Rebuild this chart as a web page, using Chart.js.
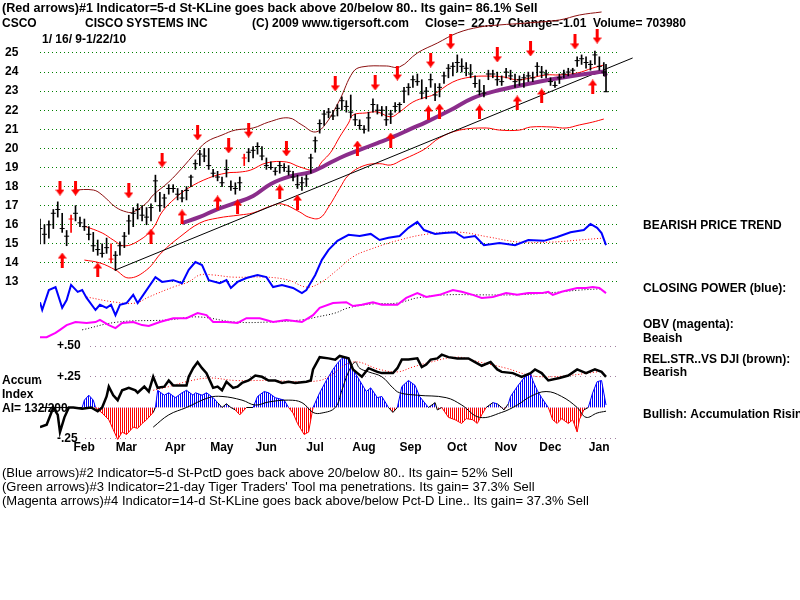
<!DOCTYPE html>
<html>
<head>
<meta charset="utf-8">
<script src="https://cdn.jsdelivr.net/npm/chart.js@4.4.1/dist/chart.umd.min.js"></script>
<style>
  html, body { margin: 0; padding: 0; background: #fff; }
  canvas { display: block; }
</style>
</head>
<body>
<canvas id="chart" width="800" height="600"></canvas>
<script>
// x = trading day, 0 = 1/16/09 ... 255 = 1/22/10
const monthDays = [10, 29, 51, 72, 92, 114, 136, 157, 178, 200, 220, 242];
const monthNames = ['Feb', 'Mar', 'Apr', 'May', 'Jun', 'Jul', 'Aug', 'Sep', 'Oct', 'Nov', 'Dec', 'Jan'];
const priceTicks = [13, 14, 15, 16, 17, 18, 19, 20, 21, 22, 23, 24, 25];
const aiTicks = [0.5, 0.25, -0.25];
const aiTickNames = ['+.50', '+.25', '-.25'];

// price bars, one every 2 trading days, the last one is 1/22/10
const barHigh = [16.3,16.0,16.2,16.8,17.2,16.6,15.7,16.5,17.0,16.4,16.3,15.9,15.6,15.2,15.0,15.3,15.0,14.6,15.1,15.6,
  16.5,16.9,17.1,17.0,16.9,17.1,18.6,17.7,17.6,18.1,18.1,17.9,17.8,18.0,18.6,19.4,19.9,20.0,20.0,18.9,
  18.8,18.5,19.4,18.3,18.2,18.5,19.7,20.0,20.1,20.3,20.1,19.5,19.3,19.0,19.3,19.2,19.1,18.8,18.6,18.5,
  18.6,19.7,20.6,21.5,22.0,22.1,22.0,22.3,22.7,22.5,22.8,21.8,21.5,21.2,21.9,22.6,22.3,22.2,22.2,22.0,
  22.4,22.4,23.2,23.4,23.8,23.9,23.6,23.2,23.9,23.4,23.4,24.0,24.4,24.5,24.9,24.7,24.5,24.4,23.8,23.6,
  23.3,24.1,24.1,24.0,23.8,24.2,24.1,23.9,23.8,23.9,24.0,24.0,24.5,24.3,24.1,23.7,23.5,23.9,24.1,24.2,
  24.2,24.8,24.9,24.8,24.6,25.1,24.8,24.5,24.4];
const barLow = [15.0,15.0,15.3,15.8,16.4,15.6,14.9,15.6,16.2,15.9,15.7,15.2,14.6,14.4,14.3,14.5,14.0,13.6,14.4,14.8,
  15.5,15.9,16.3,16.2,16.0,16.2,17.2,16.7,16.9,17.6,17.7,17.3,17.2,17.3,18.0,18.9,19.1,19.3,18.9,18.5,
  18.3,18.0,18.5,17.8,17.6,17.8,19.1,19.3,19.5,19.7,19.4,18.9,18.9,18.6,18.7,18.8,18.6,18.3,17.9,17.8,
  18.0,18.7,19.8,20.8,21.2,21.6,21.5,21.7,22.0,21.9,21.6,21.2,21.0,20.8,20.9,21.9,21.8,21.7,21.2,21.3,
  21.9,21.9,22.4,22.8,23.2,23.3,22.6,22.6,23.2,22.5,22.7,23.4,23.7,23.8,24.0,24.0,23.8,23.7,23.2,22.8,
  22.7,23.6,23.7,23.3,23.3,23.7,23.6,23.2,23.3,23.2,23.5,23.5,23.8,23.7,23.7,23.3,23.2,23.4,23.7,23.8,
  23.9,24.3,24.4,24.2,24.1,24.4,24.1,23.8,22.97];
const barClose = [15.8,15.5,16.0,16.6,16.8,15.8,15.4,16.3,16.6,16.1,15.9,15.5,14.9,14.7,14.5,14.8,14.2,14.4,14.9,15.4,
  16.2,16.6,16.8,16.5,16.4,16.9,18.3,17.0,17.4,17.9,17.9,17.6,17.4,17.8,18.5,19.2,19.7,19.6,19.1,18.7,
  18.5,18.2,18.9,18.0,17.9,18.2,19.5,19.8,19.9,20.1,19.6,19.1,19.0,18.8,19.1,19.0,18.8,18.5,18.1,18.2,
  18.4,19.5,20.4,21.3,21.8,21.9,21.7,22.1,22.5,22.2,21.9,21.5,21.2,21.0,21.6,22.3,22.0,22.0,21.5,21.8,
  22.2,22.3,23.0,23.2,23.6,23.5,22.9,23.0,23.6,22.8,23.2,23.8,24.2,24.3,24.5,24.3,24.2,23.9,23.4,23.0,
  22.9,23.9,23.9,23.6,23.5,24.0,23.8,23.5,23.6,23.7,23.8,23.7,24.3,24.0,23.9,23.5,23.3,23.7,23.9,24.0,
  24.1,24.6,24.7,24.5,24.4,24.9,24.3,24.0,22.97];
const redBars = [7, 16, 46];

// bands and moving average
const upperDays = [15,24,28,34,39,42,48,51,58,64,70,75,82,88,96,103,112,118,124,129,135,141,145,156,162,170,179,188,198,207,219,234,243,253];
const upperBand = [17.82,17.82,17.56,16.93,16.67,16.67,17.14,17.56,18.24,18.97,19.76,20.34,20.7,20.96,21.07,21.38,21.6,21.23,20.86,21.33,22.54,24.0,24.27,24.32,24.27,25.0,25.52,26.05,26.36,26.47,26.57,26.73,26.99,27.15];
const midDays = [20,28,33,38,45,51,55,61,67,76,84,90,95,102,111,117,124,127,131,135,139,141,147,152,158,162,168,174,177,186,194,201,209,215,221,228,234,242,249,254];
const midBand = [15.93,15.57,15.2,14.89,15.2,15.83,16.67,17.4,17.93,18.45,18.71,18.76,18.87,19.24,19.29,19.03,18.87,19.3,19.8,20.6,21.33,21.75,21.86,21.91,21.65,21.91,22.43,22.69,22.8,23.48,23.74,23.79,23.74,23.59,23.69,23.85,23.85,23.95,24.21,24.37];
const lowDays = [20,27,34,40,48,55,63,72,80,90,96,104,109,117,121,126,130,135,139,146,153,158,163,170,174,180,189,201,207,216,221,231,237,243,249,254];
const lowBand = [14.15,14.0,13.63,13.21,13.63,14.57,15.36,16.09,16.35,16.51,16.62,16.98,17.09,16.67,16.4,16.35,16.93,17.9,18.6,19.1,19.2,19.13,19.39,19.76,20.02,20.55,20.96,21.07,20.96,20.96,21.12,21.12,21.07,21.23,21.38,21.54];
const maDays = [64,72,79,88,96,104,113,122,128,135,144,152,159,167,174,185,195,207,222,237,249,254,255];
const maLine = [16.09,16.41,16.77,17.14,17.51,18.14,18.55,18.76,19.08,19.5,19.92,20.28,20.6,21.02,21.38,22.01,22.64,23.06,23.43,23.74,23.95,24.0,23.8];
const trendDays = [34, 267];
const trendLine = [13.63, 24.74];

// red arrows
const sellDays = [9,16,40,55,71,85,94,111,133,151,161,176,185,206,221,241,251];
const sellAt = [17.92,17.92,17.77,19.39,20.81,20.13,20.96,19.97,23.38,23.43,23.95,24.63,25.58,24.9,25.21,25.58,25.89];
const buyDays = [10,26,50,64,80,89,108,116,143,158,175,180,198,215,226,249];
const buyAt = [14.15,13.63,15.41,16.41,17.14,16.93,17.72,17.19,20.02,20.44,21.86,21.96,21.91,22.38,22.75,23.22];

// closing power and OBV (index units)
const cpDays = [0,1,4,7,10,12,14,17,19,21,25,27,30,32,34,36,39,42,44,48,52,55,60,64,67,70,73,76,81,84,86,89,93,98,102,105,109,114,118,120,124,127,130,134,139,144,149,153,157,162,166,170,173,178,182,187,191,196,200,207,214,220,227,233,239,245,248,251,253,255];
const closingPower = [31.9,30.1,34.7,35.4,30.6,32.4,35.9,34.3,34.7,32.9,30.1,31.3,30.6,31.3,28.9,31.3,31.7,33.6,31.7,34.7,37.7,36.6,37.0,36.3,39.4,41.2,40.5,37.0,36.3,37.0,35.2,36.6,37.5,38.2,37.7,35.4,35.9,35.2,34.0,34.7,38.2,41.7,44.0,46.1,47.5,47.2,47.7,46.3,46.8,47.2,49.1,50.5,48.6,47.7,47.9,48.1,46.8,47.2,45.1,45.6,45.1,46.3,46.1,47.0,48.1,48.6,50.0,49.1,47.9,45.1];
const cpMaDays = [21,34,43,49,60,67,72,78,87,102,112,120,126,134,141,148,162,175,189,202,216,230,243,255];
const cpMa = [33.1,31.9,31.7,33.1,35.4,36.6,38.2,38.2,37.7,37.7,37.0,35.4,36.3,39.4,42.4,44.0,46.3,47.7,48.1,47.0,45.8,45.8,46.3,46.8];
const obvDays = [0,3,7,9,12,16,21,25,27,31,34,37,42,46,49,54,60,66,71,75,78,84,89,93,99,105,111,118,123,126,132,138,141,145,150,154,161,165,170,174,180,186,190,195,199,204,210,215,220,226,229,231,235,242,246,249,252,255];
const obv = [23.8,23.8,24.8,25.5,26.6,27.3,27.1,27.3,27.8,26.6,25.9,27.1,27.3,26.6,26.4,27.3,28.2,28.2,29.4,28.9,27.3,27.3,27.1,28.2,28.2,27.3,27.8,27.3,28.9,30.6,31.7,31.9,31.0,31.3,31.9,31.3,31.3,32.9,34.0,33.1,33.6,34.7,34.3,33.6,32.9,33.1,34.0,33.6,34.0,34.0,34.3,33.6,34.3,35.2,35.2,35.4,35.2,34.0];
const obvMaDays = [19,35,58,71,88,103,118,125,133,139,150,161,170,183,198,213,228,243,253];
const obvMa = [25.5,27.3,27.8,28.5,27.3,27.3,27.8,28.5,29.4,30.6,31.5,31.7,32.9,33.6,33.6,33.6,34.0,34.7,35.0];

// accumulation index, relative strength
const aiDays = [0,19,20,22,24,25,28,31,33,35,37,39,42,44,46,48,51,52,53,56,58,61,64,66,69,70,73,75,78,80,82,84,86,88,90,93,96,98,101,103,106,110,112,114,116,119,121,122,123,126,129,132,134,136,138,139,142,144,147,149,152,154,155,157,159,161,163,166,169,171,173,175,178,179,181,184,187,190,192,195,197,199,201,204,206,208,209,211,212,215,218,221,222,224,226,229,231,233,235,238,240,242,243,245,247,249,251,253,255];
const accum = [0,0,0.06,0.10,0.06,0,-0.045,-0.10,-0.18,-0.26,-0.20,-0.22,-0.16,-0.17,-0.13,-0.10,-0.04,0,0.14,0.10,0.12,0.08,0.12,0.14,0.10,0.12,0.10,0.12,0.08,0.04,0,0.03,0,-0.02,-0.06,0,0,0.09,0.13,0.12,0.08,0.06,0,-0.045,-0.13,-0.22,-0.20,-0.10,0,0.12,0.22,0.31,0.36,0.40,0.41,0.39,0.28,0.22,0.13,0.16,0.08,0.09,0.06,0,-0.04,0,0.17,0.22,0.18,0.09,0.045,0,0.04,-0.02,0,-0.08,-0.10,-0.13,-0.09,-0.10,-0.13,-0.06,0,0.04,0.03,0,-0.02,0.03,0.09,0.17,0.24,0.28,0.22,0.14,0.08,0,-0.10,-0.13,-0.09,-0.13,-0.10,-0.20,-0.10,-0.02,0,0.12,0.21,0.22,0.02];
const aiMaDays = [51,58,66,76,82,91,97,103,112,118,123,127,133,136,139,142,144,148,154,159,162,170,183,190,198,208,215,221,228,235,242,246,251,255];
const aiMa = [-0.16,-0.06,0,0.08,0.09,0.06,0.02,0.045,0.06,0.04,-0.04,-0.045,0,0.14,0.29,0.37,0.32,0.29,0.25,0.16,0.12,0.10,0.08,0.02,-0.08,-0.04,0.02,0.09,0.13,0.09,0,-0.08,-0.045,-0.03];
const rsDays = [0,3,6,8,9,11,13,15,19,23,26,28,30,31,33,35,37,40,43,44,47,49,51,53,56,58,60,62,66,67,69,71,73,75,78,80,82,84,87,89,91,94,97,100,103,106,109,112,115,120,122,123,126,130,133,135,139,141,143,145,148,152,154,159,161,163,166,170,172,174,176,179,181,184,188,193,197,199,203,206,208,213,217,221,223,226,229,234,238,242,246,250,253,255];
const relStr = [-0.16,-0.14,0,-0.06,-0.20,-0.08,0,0,-0.01,0,-0.03,0,0.09,0.17,0.10,0.06,0.14,0.16,0.14,0.12,0.17,0.13,0.25,0.16,0.17,0.22,0.18,0.18,0.18,0.25,0.32,0.37,0.32,0.28,0.16,0.17,0.14,0.21,0.16,0.17,0.20,0.22,0.26,0.25,0.22,0.22,0.20,0.21,0.20,0.21,0.22,0.31,0.41,0.40,0.39,0.42,0.40,0.31,0.28,0.25,0.32,0.29,0.28,0.28,0.32,0.39,0.39,0.40,0.33,0.35,0.39,0.40,0.43,0.41,0.40,0.40,0.36,0.34,0.37,0.31,0.29,0.28,0.25,0.28,0.31,0.28,0.22,0.24,0.26,0.31,0.28,0.31,0.29,0.25];
const rsMaDays = [51,58,66,76,88,103,118,126,130,141,153,161,168,176,188,198,210,221,229,238,251];
const rsMa = [0.14,0.17,0.21,0.24,0.22,0.22,0.21,0.22,0.25,0.37,0.31,0.29,0.33,0.37,0.41,0.37,0.32,0.26,0.25,0.26,0.29];

// texts: [text, x, baseline, font]
const BOLD = 'bold 12px ';
const notes = [
  ['(Red arrows)#1 Indicator=5-d St-KLine goes back above 20/below 80.. Its gain= 86.1% Sell', 2, 12, 'bold 12.6px '],
  ['CSCO', 2, 27, BOLD],
  ['CISCO SYSTEMS INC', 85, 27, BOLD],
  ['(C) 2009 www.tigersoft.com', 252, 27, BOLD],
  ['Close=  22.97  Change=-1.01  Volume= 703980', 425, 27, BOLD],
  ['1/ 16/ 9-1/22/10', 42, 43, BOLD],
  ['BEARISH PRICE TREND', 643, 229, BOLD],
  ['CLOSING POWER (blue):', 643, 292, BOLD],
  ['OBV (magenta):', 643, 328, BOLD],
  ['Beaish', 643, 342, BOLD],
  ['REL.STR..VS DJI (brown):', 643, 363, BOLD],
  ['Bearish', 643, 376, BOLD],
  ['Bullish: Accumulation Rising', 643, 418, BOLD],
  ['Accum', 2, 384, BOLD],
  ['Index', 2, 398, BOLD],
  ['AI= 132/200', 2, 412, BOLD],
  ['(Blue arrows)#2 Indicator=5-d St-PctD goes back above 20/below 80.. Its gain= 52% Sell', 2, 477, '13px '],
  ['(Green arrows)#3 Indicator=21-day Tiger Traders\' Tool ma penetrations. Its gain= 37.3% Sell', 2, 491, '13px '],
  ['(Magenta arrows)#4 Indicator=14-d St-KLine goes back above/below Pct-D Line.. Its gain= 37.3% Sell', 2, 505, '13px ']
];

const FONT = '"Liberation Sans", Arial, sans-serif';
const pts = (xs, ys) => xs.map((x, i) => ({ x: x, y: ys[i] }));
const barDay = i => Math.min(i * 2, 255);

function makeArrow(up) {
  const c = document.createElement('canvas');
  c.width = 9; c.height = 15;
  const g = c.getContext('2d');
  g.fillStyle = '#ff0000';
  g.beginPath();
  if (up) {
    g.moveTo(4.5, 0); g.lineTo(9, 6); g.lineTo(6, 6); g.lineTo(6, 15);
    g.lineTo(3, 15); g.lineTo(3, 6); g.lineTo(0, 6);
  } else {
    g.moveTo(4.5, 15); g.lineTo(9, 9); g.lineTo(6, 9); g.lineTo(6, 0);
    g.lineTo(3, 0); g.lineTo(3, 9); g.lineTo(0, 9);
  }
  g.closePath();
  g.fill();
  return c;
}

const canvas = document.getElementById('chart');
const ctx = canvas.getContext('2d');

function stripes(color) {
  const c = document.createElement('canvas');
  c.width = 2; c.height = 1;
  const g = c.getContext('2d');
  g.fillStyle = color;
  g.fillRect(0, 0, 1, 1);
  return ctx.createPattern(c, 'repeat');
}

const textPlugin = {
  id: 'texts',
  beforeDatasetsDraw(chart) {
    const g = chart.ctx;
    g.save();
    g.fillStyle = '#000';
    g.textBaseline = 'alphabetic';
    notes.forEach(n => {
      g.font = n[3] + FONT;
      g.fillText(n[0], n[1], n[2]);
    });
    // accumulation scale labels, on the ai axis
    const ai = chart.scales.ai;
    g.font = BOLD + FONT;
    g.textBaseline = 'middle';
    aiTicks.forEach((v, i) => {
      const y = ai.getPixelForValue(v);
      const w = g.measureText(aiTickNames[i]).width;
      g.fillStyle = '#fff';
      g.fillRect(chart.chartArea.left, y - 3, 17 + w + 6, 6);
      g.fillStyle = '#000';
      g.fillText(aiTickNames[i], chart.chartArea.left + 17, y);
    });
    g.restore();
  }
};

const lineSet = (label, xs, ys, axis, color, width, extra) => Object.assign({
  type: 'line', label: label, data: pts(xs, ys), yAxisID: axis,
  borderColor: color, borderWidth: width, pointRadius: 0, tension: 0, fill: false
}, extra || {});

const bars = barHigh.map((h, i) => ({ x: barDay(i), y: [barLow[i], h] }));
const closes = barClose.map((c, i) => ({ x: barDay(i), y: c }));

new Chart(ctx, {
  type: 'line',
  data: {
    datasets: [
      { type: 'line', label: 'sell', data: pts(sellDays, sellAt), yAxisID: 'price', showLine: false,
        pointStyle: makeArrow(false), pointRadius: 5, order: 0 },
      { type: 'line', label: 'buy', data: pts(buyDays, buyAt), yAxisID: 'price', showLine: false,
        pointStyle: makeArrow(true), pointRadius: 5, order: 0 },
      { type: 'line', label: 'close', data: closes, yAxisID: 'price', showLine: false,
        pointStyle: 'line', pointRadius: 2.5, pointBorderWidth: 1,
        pointBorderColor: c => redBars.includes(c.dataIndex) ? '#ff0000' : '#000', order: 1 },
      { type: 'bar', label: 'range', data: bars, yAxisID: 'price', barThickness: 1, grouped: false,
        backgroundColor: c => redBars.includes(c.dataIndex) ? '#ff0000' : '#000', order: 2 },
      lineSet('ma', maDays, maLine, 'price', '#8b2d8b', 4, { tension: 0.4, order: 3 }),
      lineSet('trend', trendDays, trendLine, 'price', '#000', 1, { order: 4, clip: 20 }),
      lineSet('upper', upperDays, upperBand, 'price', '#8c1010', 1, { tension: 0.4, order: 5 }),
      lineSet('mid', midDays, midBand, 'price', '#ff0000', 1, { tension: 0.4, order: 5 }),
      lineSet('low', lowDays, lowBand, 'price', '#ff0000', 1, { tension: 0.4, order: 5 }),
      lineSet('cp', cpDays, closingPower, 'ind', '#0000ff', 2, { order: 6 }),
      lineSet('cpma', cpMaDays, cpMa, 'ind', '#ff0000', 1, { tension: 0.4, borderDash: [1, 2], order: 7 }),
      lineSet('obv', obvDays, obv, 'ind', '#ff00ff', 2, { order: 6 }),
      lineSet('obvma', obvMaDays, obvMa, 'ind', '#000', 1, { tension: 0.4, borderDash: [1, 2], order: 7 }),
      lineSet('rs', rsDays, relStr, 'ai', '#000', 2.5, { order: 6 }),
      lineSet('rsma', rsMaDays, rsMa, 'ai', '#ff0000', 1, { tension: 0.4, borderDash: [1, 2], order: 7 }),
      lineSet('aima', aiMaDays, aiMa, 'ai', '#000', 1, { tension: 0.4, order: 7 }),
      lineSet('ai', aiDays, accum, 'ai', '#000', 1, {
        order: 8,
        fill: { target: { value: 0 }, above: stripes('#0000ff'), below: stripes('#ff0000') },
        segment: {
          borderColor: s => {
            const m = (s.p0.parsed.y + s.p1.parsed.y) / 2;
            return m > 0.02 ? '#0000ff' : (m < -0.02 ? '#ff0000' : '#000');
          }
        }
      })
    ]
  },
  options: {
    responsive: false,
    animation: false,
    devicePixelRatio: 1,
    events: [],
    layout: { padding: { top: 8, right: 180, left: 5, bottom: 0 } },
    plugins: { legend: { display: false }, tooltip: { enabled: false } },
    scales: {
      x: {
        type: 'linear', position: 'bottom', min: 0, max: 261.3, offset: false,
        grid: { display: false, drawTicks: false, offset: false }, border: { display: false },
        afterBuildTicks: s => { s.ticks = monthDays.map(v => ({ value: v })); },
        afterFit: s => { s.height = 160; },
        ticks: {
          autoSkip: false, maxRotation: 0, labelOffset: 22, padding: 0, color: '#000',
          font: { family: FONT, size: 12, weight: 'bold' },
          callback: v => monthNames[monthDays.indexOf(v)]
        }
      },
      price: {
        type: 'linear', position: 'left', weight: 2, min: 4.72, max: 27.358,
        afterBuildTicks: s => { s.ticks = priceTicks.map(v => ({ value: v })); },
        afterFit: s => { s.width = 35; },
        grid: { color: '#008000', drawTicks: false, borderDash: [1, 3] },
        border: { display: false, dash: [1, 3] },
        ticks: { padding: 0, crossAlign: 'far', color: '#000',
          font: { family: FONT, size: 12, weight: 'bold' },
          callback: v => String(v) }
      },
      ai: {
        type: 'linear', position: 'left', weight: 1, min: -0.2647, max: 3.2533,
        afterBuildTicks: s => { s.ticks = aiTicks.map(v => ({ value: v })); },
        afterFit: s => { s.width = 0; },
        grid: { color: '#a080a0', drawTicks: false, borderDash: [1, 4] },
        border: { display: false, dash: [1, 4] },
        ticks: { display: false, padding: 0 }
      },
      ind: { type: 'linear', display: false, min: 0, max: 100 }
    }
  },
  plugins: [textPlugin]
});
</script>
</body>
</html>
